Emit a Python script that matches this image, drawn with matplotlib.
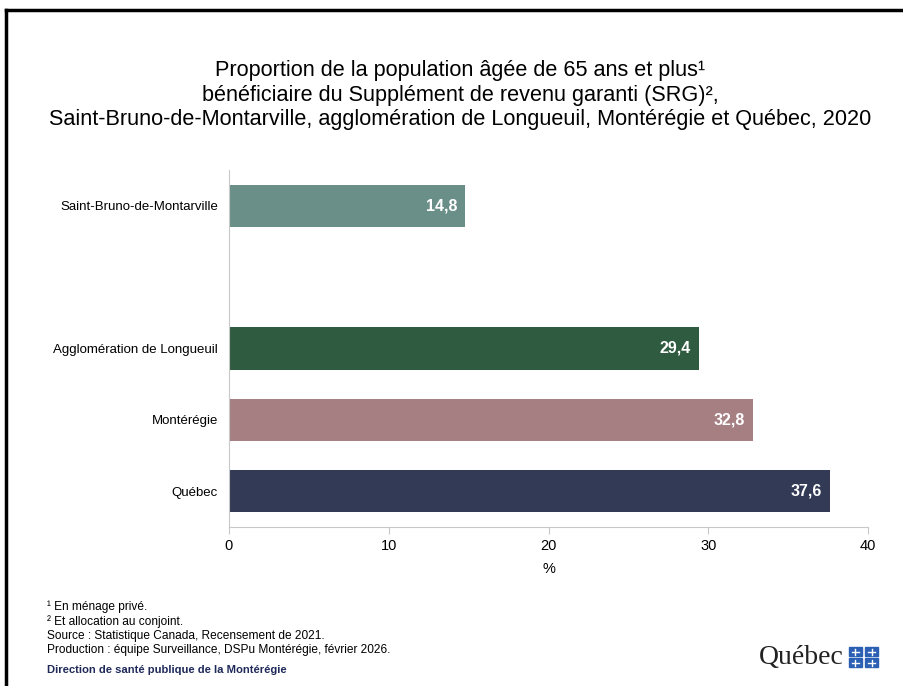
import matplotlib.pyplot as plt
from matplotlib.patches import Rectangle

plt.rcParams['font.family'] = ['Liberation Sans', 'DejaVu Sans']

regions = ['Québec', 'Montérégie', 'Agglomération de Longueuil', '', 'Saint-Bruno-de-Montarville']
values = [37.6, 32.8, 29.4, None, 14.8]
colors = ['#323a56', '#a67f83', '#2f5b40', 'white', '#6a8f88']
labels = ['37,6', '32,8', '29,4', '', '14,8']

fig = plt.figure(figsize=(9.04, 6.86), dpi=100)
ax = fig.add_axes([0.2533, 0.2318, 0.7069, 0.5204])

pos = list(range(len(regions)))
for p, v, c, lab in zip(pos, values, colors, labels):
    if v is None:
        continue
    ax.barh(p, v, height=0.59, color=c)
    ax.text(v - 0.5, p, lab, ha='right', va='center', color='white',
            fontsize=11.5, fontweight='bold')

ax.set_yticks(pos)
ax.set_yticklabels(regions, fontsize=9.5)
ax.set_ylim(-0.5, 4.5)
ax.set_xlim(0, 40)
ax.set_xticks([0, 10, 20, 30, 40])
ax.tick_params(axis='x', labelsize=10.5, length=5, color='#c8c8c8', pad=4)
ax.tick_params(axis='y', length=0, pad=8)
ax.set_xlabel('%', fontsize=10.5, labelpad=6)
for s in ['top', 'right']:
    ax.spines[s].set_visible(False)
for s in ['left', 'bottom']:
    ax.spines[s].set_color('#c8c8c8')

title = ('Proportion de la population âgée de 65 ans et plus¹\n'
         'bénéficiaire du Supplément de revenu garanti (SRG)²,\n'
         'Saint-Bruno-de-Montarville, agglomération de Longueuil, Montérégie et Québec, 2020')
fig.text(0.509, 0.912, title, ha='center', va='top', fontsize=15.6, linespacing=1.2)

notes = ('¹ En ménage privé.\n'
         '² Et allocation au conjoint.\n'
         'Source : Statistique Canada, Recensement de 2021.\n'
         'Production : équipe Surveillance, DSPu Montérégie, février 2026.')
fig.text(0.052, 0.124, notes, ha='left', va='top', fontsize=8.6, linespacing=1.22)
fig.text(0.052, 0.024, 'Direction de santé publique de la Montérégie', ha='left', va='center',
         fontsize=8.1, fontweight='bold', color='#1f2a5a')

# logo
fig.text(0.9336, 0.041, 'Québec', ha='right', va='center', fontsize=20,
         family='Liberation Serif', color='#222222')
for dx in (0, 1):
    for dy in (0, 1):
        x0 = 0.939 + dx * 0.0178
        y0 = 0.0277 + dy * 0.0160
        w, h = 0.0145, 0.0125
        fig.patches.append(Rectangle((x0, y0), w, h, transform=fig.transFigure,
                                     color='#2b5fb4'))
        fig.lines.append(plt.Line2D([x0 + w / 2, x0 + w / 2], [y0 + 0.002, y0 + h - 0.002],
                                    transform=fig.transFigure, color='white', lw=1))
        fig.lines.append(plt.Line2D([x0 + 0.003, x0 + w - 0.003], [y0 + h / 2, y0 + h / 2],
                                    transform=fig.transFigure, color='white', lw=1))

# frame (top and left edges)
fig.lines.append(plt.Line2D([0.0065, 1.0], [0.9855, 0.9855], transform=fig.transFigure,
                            color='black', lw=2.5))
fig.lines.append(plt.Line2D([0.0065, 0.0065], [0.0, 0.9855], transform=fig.transFigure,
                            color='black', lw=2.5))

fig.savefig('out.png', dpi=100)
